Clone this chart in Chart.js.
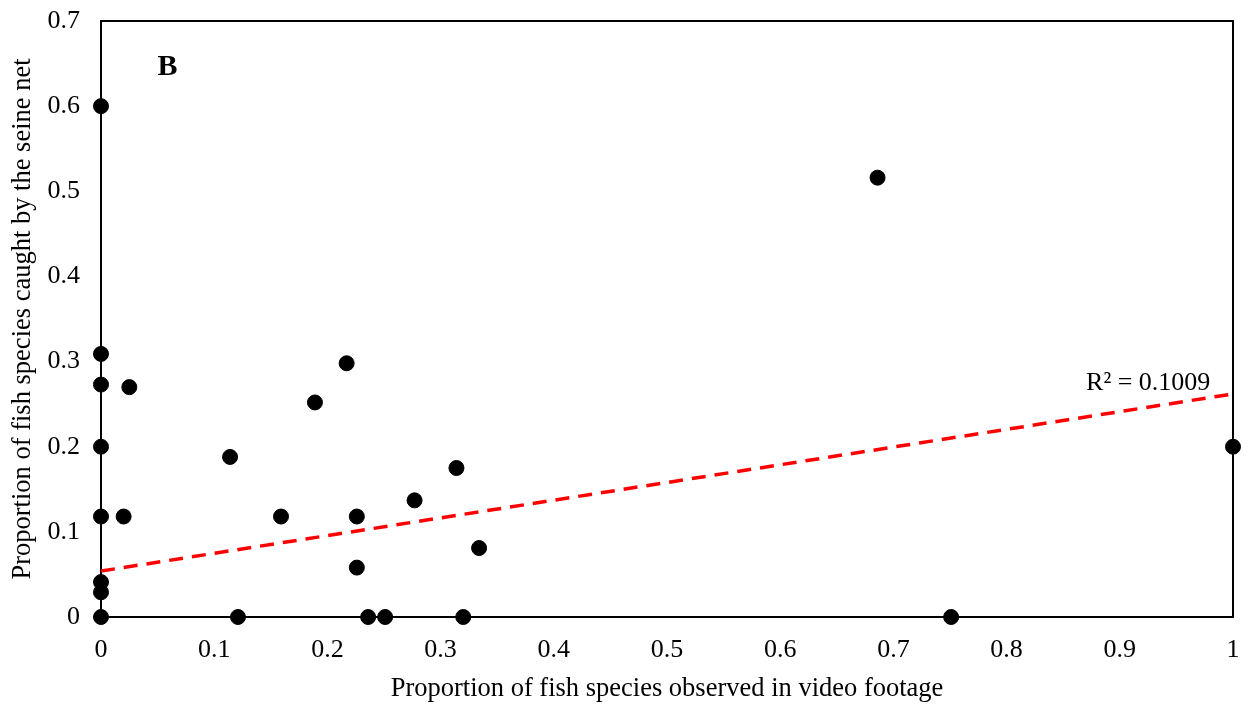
<!DOCTYPE html>
<html>
<head>
<meta charset="utf-8">
<script src="https://cdn.jsdelivr.net/npm/chart.js@4/dist/chart.umd.min.js"></script>
<style>
    html, body { margin: 0; padding: 0; background: #ffffff; }
    #wrap { width: 1250px; height: 708px; }
</style>
</head>
<body>
<div id="wrap"><canvas id="scatterChart" width="1250" height="708"></canvas></div>
<script>
// proportions
const videoX = [0, 0, 0, 0.025, 0, 0, 0.020, 0, 0, 0, 0.114, 0.121, 0.159, 0.189, 0.217,
    0.226, 0.226, 0.236, 0.251, 0.277, 0.314, 0.320, 0.334, 0.686, 0.751, 1];
const seineY = [0.6, 0.309, 0.273, 0.270, 0.2, 0.118, 0.118, 0.041, 0.029, 0, 0.188, 0, 0.118, 0.252, 0.298,
    0.118, 0.058, 0, 0, 0.137, 0.175, 0, 0.081, 0.516, 0, 0.2];

const trendX = [0, 1];
const trendY = [0.054, 0.262];

const xTicks = [0, 0.1, 0.2, 0.3, 0.4, 0.5, 0.6, 0.7, 0.8, 0.9, 1];
const yTicks = [0, 0.1, 0.2, 0.3, 0.4, 0.5, 0.6, 0.7];

const r2Label = 'R² = 0.1009';
const panelLabel = 'B';

const serif = '"Liberation Serif", "Times New Roman", serif';

function toPoints(xs, ys) {
    return xs.map(function (x, i) {
        return { x: x, y: ys[i] };
    });
}

// box around the plot plus the text notes
const framePlugin = {
    id: 'frame',
    afterDraw(chart) {
        const ctx = chart.ctx;
        const area = chart.chartArea;
        const xs = chart.scales.x;
        const ys = chart.scales.y;

        ctx.save();
        ctx.strokeStyle = '#000000';
        ctx.lineWidth = 2;
        ctx.beginPath();
        ctx.moveTo(area.left, area.top);
        ctx.lineTo(area.right, area.top);
        ctx.lineTo(area.right, area.bottom);
        ctx.stroke();

        ctx.fillStyle = '#000000';
        ctx.font = 'bold 30px ' + serif;
        ctx.textAlign = 'left';
        ctx.textBaseline = 'middle';
        ctx.fillText(panelLabel, xs.getPixelForValue(0.05), ys.getPixelForValue(0.646));

        ctx.font = '26px ' + serif;
        ctx.textAlign = 'right';
        ctx.fillText(r2Label, xs.getPixelForValue(0.98), ys.getPixelForValue(0.275));
        ctx.restore();
    }
};

const ctx = document.getElementById('scatterChart').getContext('2d');

const scatterChart = new Chart(ctx, {
    type: 'scatter',
    data: {
        datasets: [{
            label: 'Species',
            data: toPoints(videoX, seineY),
            backgroundColor: '#000000',
            borderColor: '#000000',
            pointRadius: 7.5,
            clip: false,
            order: 1
        }, {
            label: 'Linear',
            type: 'line',
            data: toPoints(trendX, trendY),
            borderColor: '#ff0000',
            borderWidth: 3.5,
            borderDash: [14, 9],
            pointRadius: 0,
            fill: false,
            order: 2
        }]
    },
    options: {
        responsive: false,
        animation: false,
        layout: {
            padding: { left: 0, top: 21, right: 17, bottom: 0 }
        },
        plugins: {
            legend: { display: false },
            tooltip: { enabled: false }
        },
        scales: {
            x: {
                type: 'linear',
                min: 0,
                max: 1,
                afterBuildTicks(scale) {
                    scale.ticks = xTicks.map(function (v) { return { value: v }; });
                },
                afterFit(scale) {
                    scale.height = 91;
                    scale.paddingLeft = 0;
                    scale.paddingRight = 0;
                },
                grid: { display: false, drawTicks: false },
                border: { display: true, color: '#000000', width: 2 },
                ticks: {
                    color: '#000000',
                    padding: 18,
                    font: { family: serif, size: 26 },
                    callback: function (v) { return String(v); }
                },
                title: {
                    display: true,
                    text: 'Proportion of fish species observed in video footage',
                    color: '#000000',
                    font: { family: serif, size: 26.5 },
                    padding: { top: 0, bottom: 3 }
                }
            },
            y: {
                type: 'linear',
                min: 0,
                max: 0.7,
                afterBuildTicks(scale) {
                    scale.ticks = yTicks.map(function (v) { return { value: v }; });
                },
                afterFit(scale) {
                    scale.width = 101;
                    scale.paddingTop = 0;
                    scale.paddingBottom = 0;
                },
                grid: { display: false, drawTicks: false },
                border: { display: true, color: '#000000', width: 2 },
                ticks: {
                    color: '#000000',
                    padding: 21,
                    font: { family: serif, size: 26 },
                    callback: function (v) { return String(v); }
                },
                title: {
                    display: true,
                    text: 'Proportion of fish species caught by the seine net',
                    color: '#000000',
                    font: { family: serif, size: 26.5 },
                    padding: { top: 7, bottom: 0 }
                }
            }
        }
    },
    plugins: [framePlugin]
});
</script>
</body>
</html>
